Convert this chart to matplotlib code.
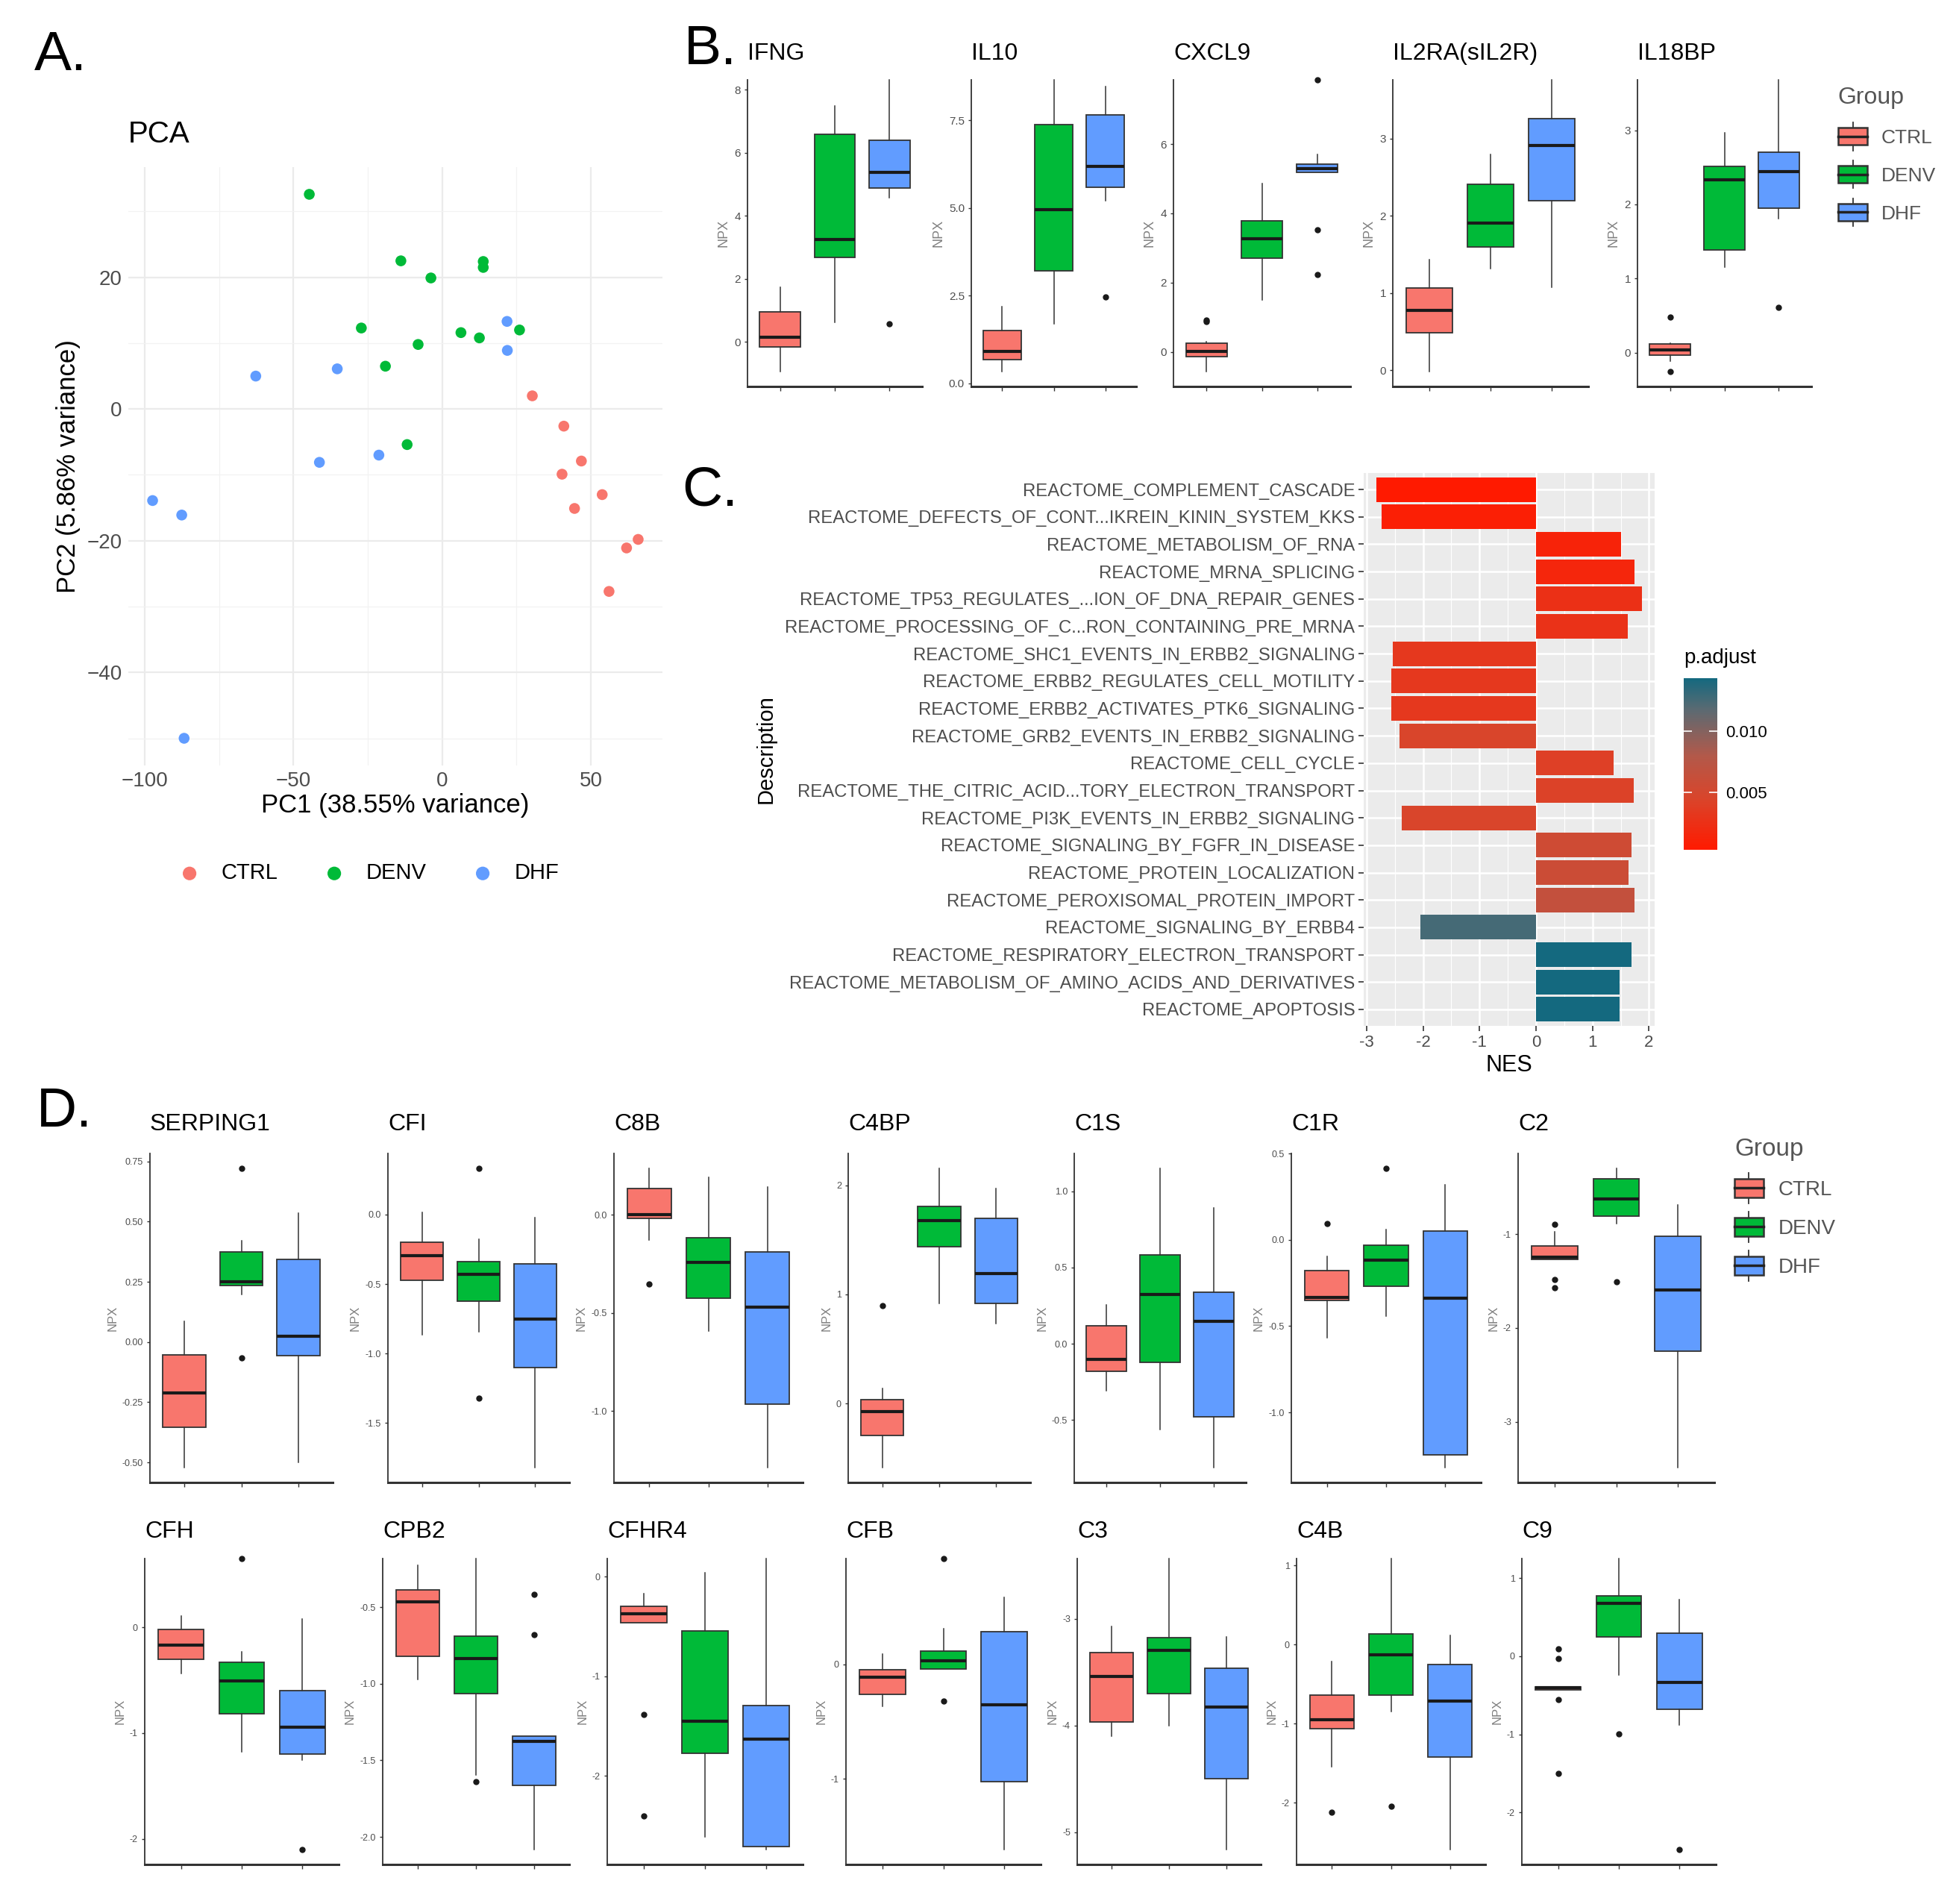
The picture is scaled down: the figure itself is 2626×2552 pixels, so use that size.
import matplotlib
matplotlib.use("Agg")
import matplotlib.pyplot as plt
import numpy as np
from matplotlib.colors import LinearSegmentedColormap, Normalize
from matplotlib.cm import ScalarMappable
from matplotlib.legend_handler import HandlerBase
from matplotlib.patches import Rectangle, Patch
from matplotlib.lines import Line2D
from matplotlib.ticker import MultipleLocator, FuncFormatter

plt.rcParams['font.family'] = ['Liberation Sans', 'DejaVu Sans']
plt.rcParams['axes.unicode_minus'] = False

groups = ["CTRL", "DENV", "DHF"]
group_colors = ["#F8766D", "#00BA38", "#619CFF"]

# ---- A: PCA scores ----
ctrl_pc1 = [30.3, 40.9, 46.8, 40.3, 44.5, 53.8, 62.0, 65.9, 56.1]
ctrl_pc2 = [2.0, -2.6, -7.9, -9.9, -15.1, -13.0, -21.1, -19.8, -27.7]
denv_pc1 = [-44.7, -13.9, -3.8, 13.8, 13.8, -27.2, -8.1, -19.1, 6.3, 12.5, 26.0, -11.8]
denv_pc2 = [32.6, 22.5, 19.9, 22.4, 21.5, 12.3, 9.8, 6.5, 11.6, 10.8, 12.0, -5.4]
dhf_pc1 = [21.8, 21.9, -62.7, -35.3, -41.3, -21.3, -97.4, -87.6, -86.8]
dhf_pc2 = [13.3, 8.9, 5.0, 6.1, -8.1, -7.0, -13.9, -16.1, -50.0]

# ---- B / D: box stats per group (whisker low, q1, median, q3, whisker high, outliers) ----
IFNG = [(-0.95, -0.17, 0.14, 0.96, 1.74, []), (0.62, 2.69, 3.24, 6.58, 7.48, []), (4.58, 4.89, 5.38, 6.40, 8.31, [0.58])]
IL10 = [(0.33, 0.67, 0.91, 1.51, 2.18, []), (1.70, 3.21, 4.96, 7.38, 8.65, []), (5.21, 5.59, 6.19, 7.66, 8.46, [2.47])]
CXCL9 = [(-0.57, -0.14, 0.01, 0.25, 0.30, [0.88, 0.92]), (1.51, 2.70, 3.26, 3.79, 4.85, []), (5.19, 5.19, 5.30, 5.42, 5.69, [7.85, 3.52, 2.24])]
IL2RA = [(-0.02, 0.49, 0.78, 1.07, 1.43, []), (1.32, 1.60, 1.91, 2.41, 2.79, []), (1.08, 2.20, 2.91, 3.26, 3.76, [])]
IL18BP = [(-0.11, -0.03, 0.04, 0.12, 0.13, [0.48, -0.26]), (1.15, 1.38, 2.33, 2.51, 2.97, []), (1.81, 1.95, 2.44, 2.70, 3.68, [0.61])]

SERPING1 = [(-0.521, -0.354, -0.210, -0.053, 0.085, []), (0.198, 0.236, 0.250, 0.374, 0.422, [0.721, -0.067]), (-0.501, -0.057, 0.025, 0.342, 0.535, [])]
CFI = [(-0.864, -0.475, -0.295, -0.198, 0.014, []), (-0.844, -0.625, -0.429, -0.337, -0.176, [0.333, -1.323]), (-1.822, -1.104, -0.754, -0.357, -0.02, [])]
C8B = [(-0.127, -0.018, 0.0, 0.134, 0.237, [-0.352]), (-0.592, -0.424, -0.241, -0.117, 0.193, []), (-1.289, -0.965, -0.469, -0.190, 0.141, [])]
C4BP = [(-0.587, -0.291, -0.076, 0.033, 0.139, [0.894]), (0.914, 1.438, 1.678, 1.805, 2.154, []), (0.729, 0.919, 1.192, 1.699, 1.970, [])]
C1S = [(-0.308, -0.181, -0.100, 0.118, 0.253, []), (-0.561, -0.121, 0.322, 0.583, 1.149, []), (-0.811, -0.480, 0.148, 0.338, 0.892, [])]
C1R = [(-0.565, -0.350, -0.334, -0.180, -0.095, [0.093]), (-0.440, -0.270, -0.116, -0.029, 0.061, [0.414]), (-1.319, -1.247, -0.337, 0.053, 0.321, [])]
C2 = [(-1.268, -1.268, -1.245, -1.127, -0.979, [-0.897, -1.481, -1.575]), (-0.891, -0.811, -0.625, -0.410, -0.301, [-1.510]), (-3.487, -2.248, -1.593, -1.024, -0.693, [])]

CFH = [(-0.438, -0.304, -0.169, -0.022, 0.105, []), (-1.175, -0.818, -0.507, -0.328, -0.230, [0.651]), (-1.253, -1.200, -0.941, -0.600, 0.076, [-2.105])]
CPB2 = [(-0.972, -0.819, -0.466, -0.390, -0.225, []), (-1.597, -1.064, -0.836, -0.692, -0.183, [-1.639]), (-2.085, -1.666, -1.378, -1.341, -1.341, [-0.417, -0.680])]
CFHR4 = [(-0.463, -0.463, -0.373, -0.295, -0.168, [-1.383, -2.404]), (-2.609, -1.773, -1.453, -0.547, 0.042, []), (-2.743, -2.707, -1.632, -1.290, 0.182, [])]
CFB = [(-0.366, -0.261, -0.109, -0.045, 0.089, []), (-0.041, -0.041, 0.032, 0.114, 0.311, [0.925, -0.318]), (-1.620, -1.023, -0.352, 0.284, 0.584, [])]
C3 = [(-4.099, -3.965, -3.541, -3.313, -3.072, []), (-4.0, -3.701, -3.292, -3.179, -2.435, []), (-5.166, -4.497, -3.830, -3.461, -3.171, [])]
C4B = [(-1.541, -1.059, -0.951, -0.639, -0.213, [-2.125]), (-0.846, -0.643, -0.125, 0.138, 1.089, [-2.043]), (-2.597, -1.426, -0.711, -0.252, 0.115, [])]
C9 = [(-0.43, -0.43, -0.407, -0.39, -0.39, [0.093, -0.033, -0.552, -1.499]), (-0.238, 0.248, 0.678, 0.777, 1.251, [-0.992]), (-0.877, -0.678, -0.331, 0.291, 0.728, [-2.481])]

# y tick labels of each small panel
gene_ticks = {
    "IFNG": [0, 2, 4, 6, 8], "IL10": [0, 2.5, 5, 7.5], "CXCL9": [0, 2, 4, 6],
    "IL2RA(sIL2R)": [0, 1, 2, 3], "IL18BP": [0, 1, 2, 3],
    "SERPING1": [-0.5, -0.25, 0, 0.25, 0.5, 0.75], "CFI": [-1.5, -1, -0.5, 0],
    "C8B": [-1, -0.5, 0], "C4BP": [0, 1, 2], "C1S": [-0.5, 0, 0.5, 1],
    "C1R": [-1, -0.5, 0, 0.5], "C2": [-3, -2, -1],
    "CFH": [-2, -1, 0], "CPB2": [-2, -1.5, -1, -0.5], "CFHR4": [-2, -1, 0],
    "CFB": [-1, 0], "C3": [-5, -4, -3], "C4B": [-2, -1, 0, 1], "C9": [-2, -1, 0, 1],
}

# ---- C: GSEA ----
descriptions = [
    "REACTOME_COMPLEMENT_CASCADE",
    "REACTOME_DEFECTS_OF_CONT...IKREIN_KININ_SYSTEM_KKS",
    "REACTOME_METABOLISM_OF_RNA",
    "REACTOME_MRNA_SPLICING",
    "REACTOME_TP53_REGULATES_...ION_OF_DNA_REPAIR_GENES",
    "REACTOME_PROCESSING_OF_C...RON_CONTAINING_PRE_MRNA",
    "REACTOME_SHC1_EVENTS_IN_ERBB2_SIGNALING",
    "REACTOME_ERBB2_REGULATES_CELL_MOTILITY",
    "REACTOME_ERBB2_ACTIVATES_PTK6_SIGNALING",
    "REACTOME_GRB2_EVENTS_IN_ERBB2_SIGNALING",
    "REACTOME_CELL_CYCLE",
    "REACTOME_THE_CITRIC_ACID...TORY_ELECTRON_TRANSPORT",
    "REACTOME_PI3K_EVENTS_IN_ERBB2_SIGNALING",
    "REACTOME_SIGNALING_BY_FGFR_IN_DISEASE",
    "REACTOME_PROTEIN_LOCALIZATION",
    "REACTOME_PEROXISOMAL_PROTEIN_IMPORT",
    "REACTOME_SIGNALING_BY_ERBB4",
    "REACTOME_RESPIRATORY_ELECTRON_TRANSPORT",
    "REACTOME_METABOLISM_OF_AMINO_ACIDS_AND_DERIVATIVES",
    "REACTOME_APOPTOSIS",
]
nes = [-2.83, -2.73, 1.50, 1.74, 1.87, 1.62, -2.54, -2.56, -2.56, -2.42,
       1.38, 1.73, -2.38, 1.69, 1.64, 1.74, -2.04, 1.69, 1.48, 1.48]
p_adjust = [0.0003, 0.0008, 0.0012, 0.0015, 0.0025, 0.0027, 0.0032, 0.0032, 0.0032, 0.0045,
            0.0040, 0.0042, 0.0045, 0.0055, 0.0058, 0.0065, 0.0125, 0.0143, 0.0143, 0.0143]

W, H = 2626, 2552
fig = plt.figure(figsize=(W / 100, H / 100), dpi=100)
fig.patch.set_facecolor("white")


def px_axes(x0, y0, x1, y1):
    return fig.add_axes([x0 / W, 1 - y1 / H, (x1 - x0) / W, (y1 - y0) / H])


def px_text(x, y, s, **kw):
    return fig.text(x / W, 1 - y / H, s, **kw)


class BoxKey(HandlerBase):
    # ggplot-like boxplot legend glyph
    def create_artists(self, legend, orig_handle, xdescent, ydescent, width, height, fontsize, trans):
        x0, y0 = -xdescent, -ydescent
        xm = x0 + width / 2
        wl = Line2D([xm, xm], [y0 - 0.3 * height, y0 + 1.3 * height], color="#333333", lw=1.3, transform=trans)
        box = Rectangle((x0, y0), width, height, facecolor=orig_handle.get_facecolor(),
                        edgecolor="#333333", lw=1.8, transform=trans)
        med = Line2D([x0, x0 + width], [y0 + height / 2] * 2, color="#222222", lw=2.5, transform=trans)
        return [wl, box, med]


def box_panel(rect, name, stats, top_pad, tick_fs, npx_fs):
    ax = px_axes(*rect)
    st = [dict(whislo=s[0], q1=s[1], med=s[2], q3=s[3], whishi=s[4], fliers=s[5]) for s in stats]
    art = ax.bxp(st, positions=[1, 2, 3], widths=0.75, patch_artist=True, showcaps=False,
                 boxprops=dict(edgecolor="#333333", linewidth=1.3),
                 medianprops=dict(color="#1a1a1a", linewidth=3),
                 whiskerprops=dict(color="#333333", linewidth=1.1),
                 flierprops=dict(marker="o", markerfacecolor="#1a1a1a", markeredgecolor="#1a1a1a", markersize=5))
    for patch, c in zip(art["boxes"], group_colors):
        patch.set_facecolor(c)
    for key in art:
        for a in art[key]:
            a.set_clip_on(False)
    vals = [v for s in stats for v in s[:5]] + [v for s in stats for v in s[5]]
    lo, hi = min(vals), max(vals)
    r = hi - lo
    ax.set_ylim(lo - 0.05 * r, hi + top_pad * r)
    ax.set_xlim(0.4, 3.6)
    ax.set_yticks(gene_ticks[name])
    ax.set_xticks([1, 2, 3])
    ax.set_xticklabels([])
    ax.spines["top"].set_visible(False)
    ax.spines["right"].set_visible(False)
    ax.spines["left"].set_color("#333333")
    ax.spines["bottom"].set_color("#333333")
    ax.spines["left"].set_linewidth(1.3)
    ax.spines["bottom"].set_linewidth(2.2)
    ax.tick_params(axis="y", labelsize=tick_fs, labelcolor="#4d4d4d", color="#333333", length=3, width=1)
    ax.tick_params(axis="x", color="#333333", length=4, width=1)
    ax.set_ylabel("NPX", fontsize=npx_fs, color="#7f7f7f", labelpad=4)
    ax.set_facecolor("none")
    return ax


# ---------------- A: PCA ----------------
ax = px_axes(172, 224, 888, 1026)
all_x = ctrl_pc1 + denv_pc1 + dhf_pc1
all_y = ctrl_pc2 + denv_pc2 + dhf_pc2
rx = max(all_x) - min(all_x)
ry = max(all_y) - min(all_y)
ax.set_xlim(min(all_x) - 0.05 * rx, max(all_x) + 0.05 * rx)
ax.set_ylim(min(all_y) - 0.05 * ry, max(all_y) + 0.05 * ry)
for xs, ys, c, g in [(ctrl_pc1, ctrl_pc2, group_colors[0], groups[0]),
                     (denv_pc1, denv_pc2, group_colors[1], groups[1]),
                     (dhf_pc1, dhf_pc2, group_colors[2], groups[2])]:
    ax.scatter(xs, ys, s=110, color=c, edgecolors="none", zorder=3, label=g)
ax.xaxis.set_major_locator(MultipleLocator(50))
ax.xaxis.set_minor_locator(MultipleLocator(25))
ax.yaxis.set_major_locator(MultipleLocator(20))
ax.yaxis.set_minor_locator(MultipleLocator(10))
ax.grid(True, which="major", color="#EBEBEB", lw=1.6)
ax.grid(True, which="minor", color="#F2F2F2", lw=0.9)
ax.set_axisbelow(True)
for sp in ax.spines.values():
    sp.set_visible(False)
minus_fmt = FuncFormatter(lambda v, p: ("%g" % v).replace("-", "\u2212"))
ax.xaxis.set_major_formatter(minus_fmt)
ax.yaxis.set_major_formatter(minus_fmt)
ax.tick_params(which="both", length=0, labelsize=20, labelcolor="#4d4d4d", pad=6)
ax.set_xlabel("PC1 (38.55% variance)", fontsize=25, labelpad=2)
ax.set_ylabel("PC2 (5.86% variance)", fontsize=25, labelpad=6)
ax.set_title("PCA", fontsize=29, loc="left", pad=24)
ax.legend(loc="center", bbox_to_anchor=(0.44, -0.18), ncol=3, frameon=False, fontsize=21,
          handletextpad=0.45, columnspacing=1.6, markerscale=1.25)

# ---------------- B ----------------
b_genes = [("IFNG", IFNG, (1002, 107, 1236, 518)),
           ("IL10", IL10, (1302, 107, 1523, 518)),
           ("CXCL9", CXCL9, (1573, 107, 1810, 518)),
           ("IL2RA(sIL2R)", IL2RA, (1867, 107, 2129, 518)),
           ("IL18BP", IL18BP, (2195, 107, 2428, 518))]
for name, stats, rect in b_genes:
    box_panel(rect, name, stats, 0.0, 11, 13)
    px_text(rect[0], 72, name, fontsize=23, va="center", ha="left")

handles = [Patch(facecolor=c) for c in group_colors]
leg_b = fig.legend(handles, groups, handler_map={Patch: BoxKey()}, title="Group", loc="upper left",
                   bbox_to_anchor=(2440 / W, 1 - 92 / H), frameon=False, fontsize=19, title_fontsize=23,
                   handlelength=1.5, handleheight=1.0, labelspacing=0.95, handletextpad=0.7,
                   labelcolor="#555555", alignment="left")
leg_b.get_title().set_color("#555555")

# ---------------- C: GSEA bars ----------------
cmap = LinearSegmentedColormap.from_list("padj", [(0.0, "#ff1a00"), (0.30, "#d9452b"),
                                                  (0.55, "#b2594a"), (0.82, "#5a6a72"),
                                                  (1.0, "#14697f")])
norm = Normalize(vmin=min(p_adjust), vmax=max(p_adjust))
ax = px_axes(1828, 634, 2218, 1375)
ypos = np.arange(len(descriptions))
ax.barh(ypos, nes, height=0.9, color=cmap(norm(np.array(p_adjust))), zorder=3)
ax.set_yticks(ypos)
ax.set_yticklabels(descriptions)
ax.set_ylim(len(descriptions) - 0.4, -0.6)
ax.set_xlim(-3.05, 2.1)
ax.xaxis.set_major_locator(MultipleLocator(1))
ax.xaxis.set_minor_locator(MultipleLocator(0.5))
ax.set_facecolor("#EBEBEB")
ax.grid(True, which="major", color="white", lw=1.8)
ax.grid(True, which="minor", axis="x", color="white", lw=0.8)
ax.set_axisbelow(True)
for sp in ax.spines.values():
    sp.set_visible(False)
ax.tick_params(axis="both", which="major", labelsize=16, labelcolor="#4d4d4d", color="#333333", length=5, width=1.2)
ax.tick_params(axis="y", labelsize=17.2)
ax.tick_params(which="minor", length=0)
ax.set_xlabel("NES", fontsize=22, labelpad=4)
ax.set_ylabel("Description", fontsize=21, labelpad=8)

cax = px_axes(2257, 909, 2302, 1139)
cb = fig.colorbar(ScalarMappable(norm=norm, cmap=cmap), cax=cax)
cb.set_ticks([0.005, 0.010])
cb.set_ticklabels(["0.005", "0.010"])
cb.outline.set_visible(False)
cax.tick_params(direction="in", color="white", length=8, width=1.2, labelsize=16, left=True, right=True, pad=8)
px_text(2257, 882, "p.adjust", fontsize=20, va="center", ha="left")

# ---------------- D ----------------
d_row1 = [("SERPING1", SERPING1, (201, 1546, 446, 1987)),
          ("CFI", CFI, (520, 1546, 763, 1987)),
          ("C8B", C8B, (823, 1546, 1076, 1987)),
          ("C4BP", C4BP, (1137, 1546, 1381, 1987)),
          ("C1S", C1S, (1440, 1546, 1670, 1987)),
          ("C1R", C1R, (1731, 1546, 1985, 1987)),
          ("C2", C2, (2035, 1546, 2298, 1987))]
d_row2 = [("CFH", CFH, (194, 2089, 454, 2499)),
          ("CPB2", CPB2, (513, 2089, 763, 2499)),
          ("CFHR4", CFHR4, (814, 2089, 1076, 2499)),
          ("CFB", CFB, (1134, 2089, 1395, 2499)),
          ("C3", C3, (1444, 2089, 1690, 2499)),
          ("C4B", C4B, (1738, 2089, 1991, 2499)),
          ("C9", C9, (2040, 2089, 2300, 2499))]
for name, stats, rect in d_row1:
    box_panel(rect, name, stats, 0.05, 9, 12)
    px_text(rect[0], 1507, name, fontsize=23, va="center", ha="left")
for name, stats, rect in d_row2:
    box_panel(rect, name, stats, 0.0, 9, 12)
    px_text(rect[0], 2053, name, fontsize=23, va="center", ha="left")

leg_d = fig.legend(handles, groups, handler_map={Patch: BoxKey()}, title="Group", loc="upper left",
                   bbox_to_anchor=(2300 / W, 1 - 1500 / H), frameon=False, fontsize=20, title_fontsize=24,
                   handlelength=1.4, handleheight=1.05, labelspacing=0.85, handletextpad=0.7,
                   labelcolor="#555555", alignment="left")
leg_d.get_title().set_color("#555555")

# panel letters
for letter, x, y in [("A.", 46, 74), ("B.", 917, 66), ("C.", 914, 658), ("D.", 49, 1490)]:
    px_text(x, y, letter, fontsize=54, va="center", ha="left")

fig.savefig("out.png", dpi=100)
